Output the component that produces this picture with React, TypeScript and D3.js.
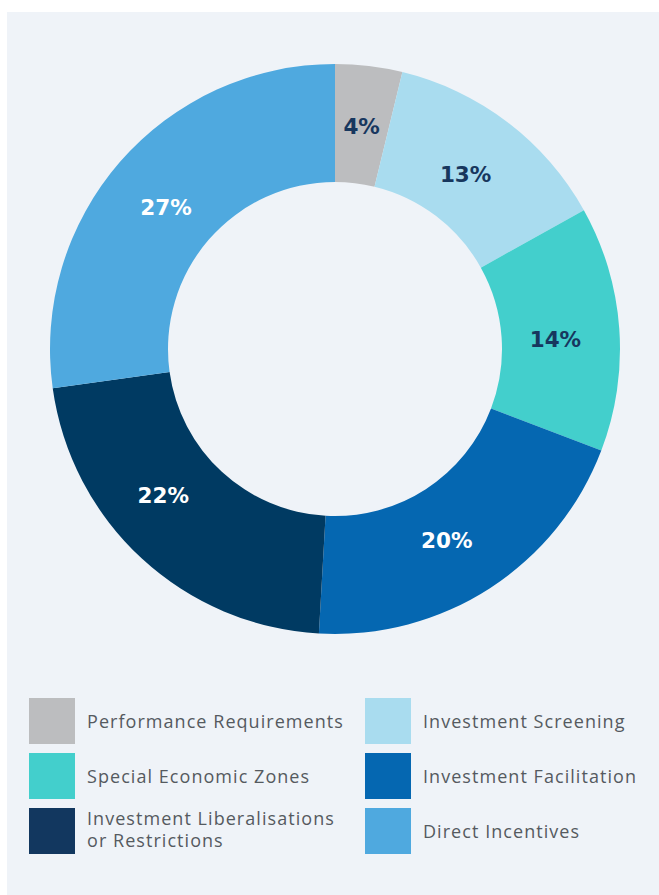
import React from "react";
import * as d3 from "d3";

const categories = [
  "Performance Requirements",
  "Investment Screening",
  "Special Economic Zones",
  "Investment Facilitation",
  "Investment Liberalisations or Restrictions",
  "Direct Incentives",
];
const values = [3.8, 13.1, 13.9, 20.1, 21.9, 27.2];
const labels = ["4%", "13%", "14%", "20%", "22%", "27%"];
const sliceColors = ["#bcbdbf", "#a9dcef", "#43cfcc", "#0567b1", "#003a62", "#4fa9df"];
const legendColors = ["#bcbdbf", "#a9dcef", "#43cfcc", "#0567b1", "#12375f", "#4fa9df"];
const labelColors = ["#17375e", "#17375e", "#17375e", "#ffffff", "#ffffff", "#ffffff"];

const legendItems: { i: number; lines: string[] }[][] = [
  [
    { i: 0, lines: ["Performance Requirements"] },
    { i: 2, lines: ["Special Economic Zones"] },
    { i: 4, lines: ["Investment Liberalisations", "or Restrictions"] },
  ],
  [
    { i: 1, lines: ["Investment Screening"] },
    { i: 3, lines: ["Investment Facilitation"] },
    { i: 5, lines: ["Direct Incentives"] },
  ],
];

export default function App() {
  const W = 659;
  const H = 895;
  const cx = 335;
  const cy = 349;
  const outerR = 285;
  const innerR = 167;
  const pie = d3.pie<number>().sort(null).value((d) => d)(values);
  const arc = d3.arc<d3.PieArcDatum<number>>().innerRadius(innerR).outerRadius(outerR);
  const labelArc = d3.arc<d3.PieArcDatum<number>>().innerRadius(224).outerRadius(224);
  // small manual label nudges, as in the original layout
  const nudge: [number, number][] = [
    [0, 0],
    [-5, 4],
    [-3, 7],
    [-10, 4],
    [-20, -18],
    [0, 6],
  ];

  const colX = [29, 365];
  const rowY = [698, 753, 808];
  const sw = 46;

  return (
    <svg
      width={W}
      height={H}
      style={{ position: "absolute", left: 0, top: 0, display: "block" }}
    >
      <rect x={0} y={0} width={W} height={H} fill="#ffffff" />
      <rect x={7} y={12} width={652} height={883} fill="#eff3f8" />
      <g transform={`translate(${cx},${cy})`}>
        {pie.map((p, k) => (
          <path key={k} d={arc(p) || ""} fill={sliceColors[k]} />
        ))}
        {pie.map((p, k) => {
          const [x, y] = labelArc.centroid(p);
          return (
            <text
              key={"l" + k}
              x={x + nudge[k][0]}
              y={y + nudge[k][1]}
              textAnchor="middle"
              dominantBaseline="central"
              fill={labelColors[k]}
              style={{ fontFamily: "'DejaVu Sans', sans-serif", fontWeight: 700, fontSize: 21.5 }}
            >
              {labels[k]}
            </text>
          );
        })}
      </g>
      {legendItems.map((col, c) =>
        col.map((it, r) => (
          <g key={`${c}-${r}`}>
            <rect x={colX[c]} y={rowY[r]} width={sw} height={sw} fill={legendColors[it.i]} />
            {it.lines.map((ln, li) => (
              <text
                key={li}
                x={colX[c] + 58}
                y={
                  it.lines.length === 1
                    ? rowY[r] + 30
                    : rowY[r] + 17 + li * 22
                }
                fill="#555a60"
                style={{ fontFamily: "'Open Sans', sans-serif", fontSize: 18, letterSpacing: 1.05 }}
              >
                {ln}
              </text>
            ))}
          </g>
        ))
      )}
    </svg>
  );
}
